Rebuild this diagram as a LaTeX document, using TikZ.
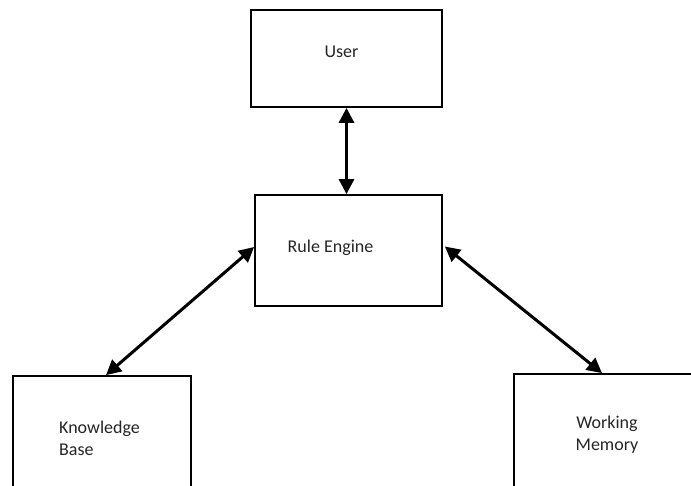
\documentclass[tikz,border=0pt]{standalone}
\usepackage{fontspec}
\setmainfont{Carlito}
\usetikzlibrary{arrows.meta,calc}
\begin{document}
\begin{tikzpicture}[x=1pt,y=-1pt,
  box/.style={draw=black,line width=1.8pt,fill=white,rectangle,inner sep=0pt},
  lbl/.style={font=\fontsize{18}{22}\selectfont,text=black!85,inner sep=0pt},
  link/.style={line width=3pt,{Triangle[length=15pt,width=15pt]}-{Triangle[length=15pt,width=15pt]}}]
  \useasboundingbox (0,0) rectangle (691,485);
  \clip (0,0) rectangle (691,485);
  \fill[white] (0,0) rectangle (691,485);

  % boxes (the two lower ones run past the bottom and right edges)
  \node[box,minimum width=191pt,minimum height=97pt] (user) at (346.5,58.5) {};
  \node[box,minimum width=187pt,minimum height=111pt] (rule) at (348.5,250.5) {};
  \node[box,minimum width=178pt,minimum height=130pt] (kb) at (102,441) {};
  \node[box,minimum width=180pt,minimum height=130pt] (wm) at (604,439) {};

  % labels (base anchor sits on the last line)
  \node[lbl,anchor=base] (userT) at (341.5,57) {User};
  \node[lbl,anchor=base west] (ruleT) at (287.5,252) {Rule Engine};
  \node[lbl,anchor=base west,align=left] (kbT) at (59,455.5) {Knowledge\\Base};
  \node[lbl,anchor=base,align=center] (wmT) at (607,450) {Working\\Memory};

  % connectors
  \draw[link] (user.south) -- (user.south |- rule.north);
  \draw[link] ($(kb.north)+(4,0)$) -- ($(rule.west)+(0,-3.5)$);
  \draw[link] ($(wm.north)+(-2,0)$) -- ($(rule.east)+(2,-4)$);
\end{tikzpicture}
\end{document}
